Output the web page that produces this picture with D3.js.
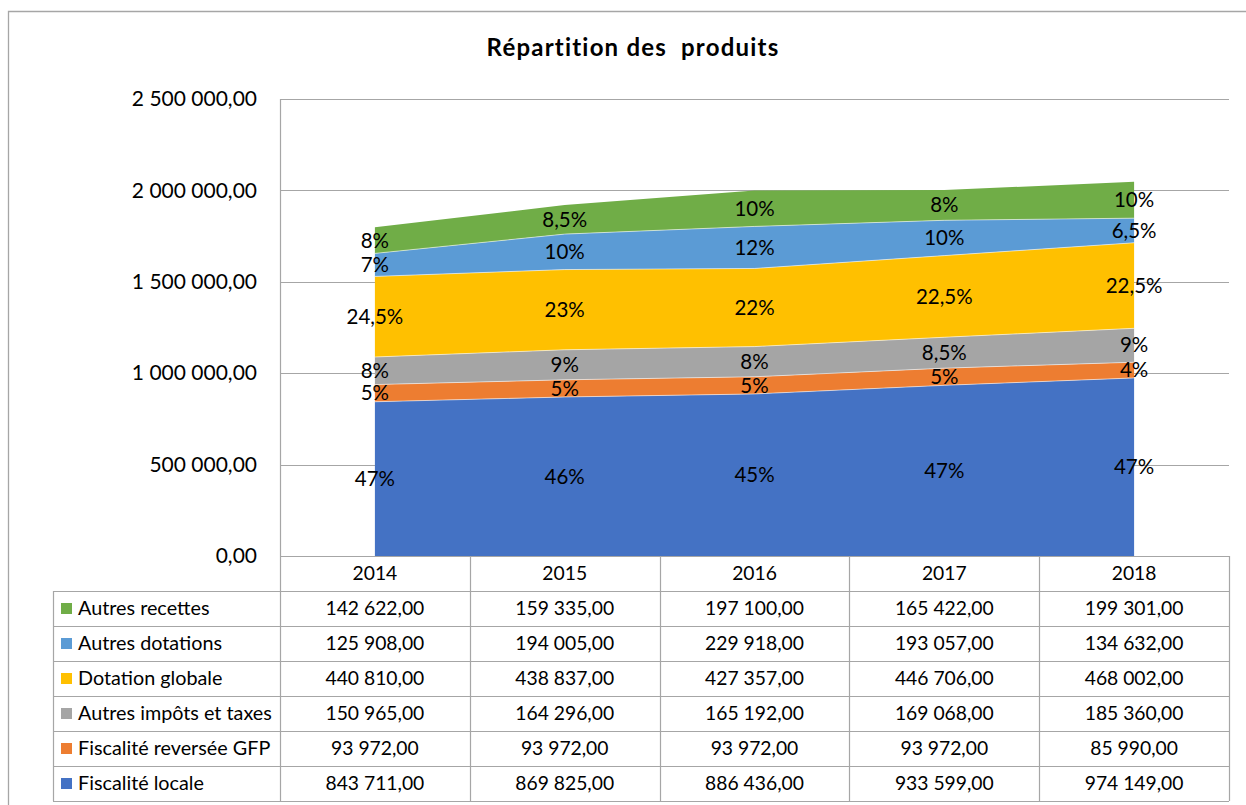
<!DOCTYPE html>
<html><head><meta charset="utf-8">
<script src="https://cdn.jsdelivr.net/npm/d3@7"></script>
<style>
html,body{margin:0;padding:0;background:#fff;}
svg{display:block;font-family:Lato,"Open Sans",sans-serif;}
</style></head>
<body>
<svg id="chart" width="1246" height="805"></svg>
<script>
const title = "Répartition des  produits";
const years = ["2014","2015","2016","2017","2018"];
const seriesNames = ["Fiscalité locale","Fiscalité reversée GFP","Autres impôts et taxes","Dotation globale","Autres dotations","Autres recettes"];
const seriesColors = ["#4472C4","#ED7D31","#A5A5A5","#FFC000","#5B9BD5","#70AD47"];
const fiscaliteLocale   = [843711, 869825, 886436, 933599, 974149];
const fiscaliteReversee = [93972, 93972, 93972, 93972, 85990];
const autresImpots      = [150965, 164296, 165192, 169068, 185360];
const dotationGlobale   = [440810, 438837, 427357, 446706, 468002];
const autresDotations   = [125908, 194005, 229918, 193057, 134632];
const autresRecettes    = [142622, 159335, 197100, 165422, 199301];
const labelsFiscaliteLocale   = ["47%","46%","45%","47%","47%"];
const labelsFiscaliteReversee = ["5%","5%","5%","5%","4%"];
const labelsAutresImpots      = ["8%","9%","8%","8,5%","9%"];
const labelsDotationGlobale   = ["24,5%","23%","22%","22,5%","22,5%"];
const labelsAutresDotations   = ["7%","10%","12%","10%","6,5%"];
const labelsAutresRecettes    = ["8%","8,5%","10%","8%","10%"];
const yTicks = [0, 500000, 1000000, 1500000, 2000000, 2500000];

const seriesValues = [fiscaliteLocale, fiscaliteReversee, autresImpots, dotationGlobale, autresDotations, autresRecettes];
const seriesLabels = [labelsFiscaliteLocale, labelsFiscaliteReversee, labelsAutresImpots, labelsDotationGlobale, labelsAutresDotations, labelsAutresRecettes];

const loc = d3.formatLocale({decimal:",", thousands:" ", grouping:[3], currency:["","€"]});
const fmt = loc.format(",.2f");

const svg = d3.select("#chart");
const gridColor = "#A6A6A6";
const plotL = 280, plotR = 1229, plotT = 99, plotB = 556;
const rowH = 35, legendL = 53;
const tableFont = 19.3;

// outer frame
svg.append("path").attr("d", `M8.5,805 V11.5 H1246`).attr("fill","none").attr("stroke","#A6A6A6").attr("stroke-width",1.3);

// title
svg.append("text").attr("x", 633).attr("y", 56).attr("text-anchor","middle")
  .attr("font-size", 24).attr("font-weight","bold").attr("letter-spacing", 1.2).attr("fill","#000")
  .attr("xml:space","preserve").style("white-space","pre").text(title);

const x = d3.scaleBand().domain(years).range([plotL, plotR]).padding(0);
const y = d3.scaleLinear().domain([0, 2500000]).range([plotB, plotT]);
const cx = d => x(d) + x.bandwidth()/2;

// gridlines
svg.append("g").selectAll("line").data(yTicks.slice(1)).join("line")
  .attr("x1", plotL).attr("x2", plotR)
  .attr("y1", d => Math.round(y(d))+0.5).attr("y2", d => Math.round(y(d))+0.5)
  .attr("stroke", gridColor).attr("stroke-width", 1.2);

// y axis labels
const yAxis = d3.axisLeft(y).tickValues(yTicks).tickFormat(fmt).tickSize(0).tickPadding(23);
const ya = svg.append("g").attr("transform", `translate(${plotL},0)`).call(yAxis);
ya.select(".domain").remove();
ya.selectAll("text").attr("font-size", 21).attr("fill","#000").attr("font-family","Lato,'Open Sans',sans-serif");

// stacked data
const tableData = years.map((yr,i) => {
  const o = {year: yr};
  seriesNames.forEach((n,k) => o[n] = seriesValues[k][i]);
  return o;
});
const stack = d3.stack().keys(seriesNames);
const stacked = stack(tableData);

const area = d3.area().x(d => cx(d.data.year)).y0(d => y(d[0])).y1(d => y(d[1]));
svg.append("g").selectAll("path").data(stacked).join("path")
  .attr("d", area).attr("fill", (d,i) => seriesColors[i]);
const topLine = d3.line().x(d => cx(d.data.year)).y(d => y(d[1]));
svg.append("g").selectAll("path").data(stacked.slice(0,5)).join("path")
  .attr("d", topLine).attr("fill","none").attr("stroke","#fff").attr("stroke-opacity",0.55).attr("stroke-width",1);

// left axis line
svg.append("line").attr("x1", plotL+0.5).attr("x2", plotL+0.5).attr("y1", plotT).attr("y2", plotB)
  .attr("stroke", gridColor).attr("stroke-width", 1.2);

// data labels
stacked.forEach((s,k) => {
  svg.append("g").selectAll("text").data(s).join("text")
    .attr("x", d => cx(d.data.year))
    .attr("y", d => y((d[0]+d[1])/2))
    .attr("dy","0.35em").attr("text-anchor","middle")
    .attr("font-size", 20.5).attr("fill","#000")
    .text((d,i) => seriesLabels[k][i]);
});

// data table
const tbl = svg.append("g");
const nRows = seriesNames.length;
const tblB = plotB + rowH*(nRows+1);
tbl.append("line").attr("x1", plotL).attr("x2", plotR).attr("y1", plotB+0.5).attr("y2", plotB+0.5).attr("stroke", gridColor).attr("stroke-width",1.2);
for (let r=1; r<=nRows+1; r++) {
  const yy = Math.round(plotB + rowH*r)+0.5;
  tbl.append("line").attr("x1", legendL).attr("x2", plotR).attr("y1", yy).attr("y2", yy).attr("stroke", gridColor).attr("stroke-width",1.2);
}
const colEdges = years.map(yr => x(yr)).concat([plotR]);
colEdges.forEach(xx => {
  tbl.append("line").attr("x1", Math.round(xx)+0.5).attr("x2", Math.round(xx)+0.5).attr("y1", plotB).attr("y2", tblB)
    .attr("stroke", gridColor).attr("stroke-width",1.2);
});
tbl.append("line").attr("x1", legendL+0.5).attr("x2", legendL+0.5).attr("y1", plotB+rowH).attr("y2", tblB)
  .attr("stroke", gridColor).attr("stroke-width",1.2);

// header years
tbl.selectAll("text.yr").data(years).join("text").attr("class","yr")
  .attr("x", d => cx(d)).attr("y", plotB + rowH/2).attr("dy","0.35em")
  .attr("text-anchor","middle").attr("font-size",tableFont).attr("fill","#000").text(d => d);

// rows: top row = last series
const rowOrder = d3.range(nRows).reverse();
rowOrder.forEach((k, r) => {
  const rowMid = plotB + rowH*(r+1) + rowH/2;
  tbl.append("rect").attr("x", 61).attr("y", rowMid-5.5).attr("width", 11).attr("height", 11).attr("fill", seriesColors[k]);
  tbl.append("text").attr("x", 78).attr("y", rowMid).attr("dy","0.35em").attr("font-size",19.8).attr("fill","#000").text(seriesNames[k]);
  tbl.append("g").selectAll("text").data(seriesValues[k]).join("text")
    .attr("x", (d,i) => cx(years[i])).attr("y", rowMid).attr("dy","0.35em")
    .attr("text-anchor","middle").attr("font-size",tableFont).attr("fill","#000").text(d => fmt(d));
});
</script>
</body></html>
